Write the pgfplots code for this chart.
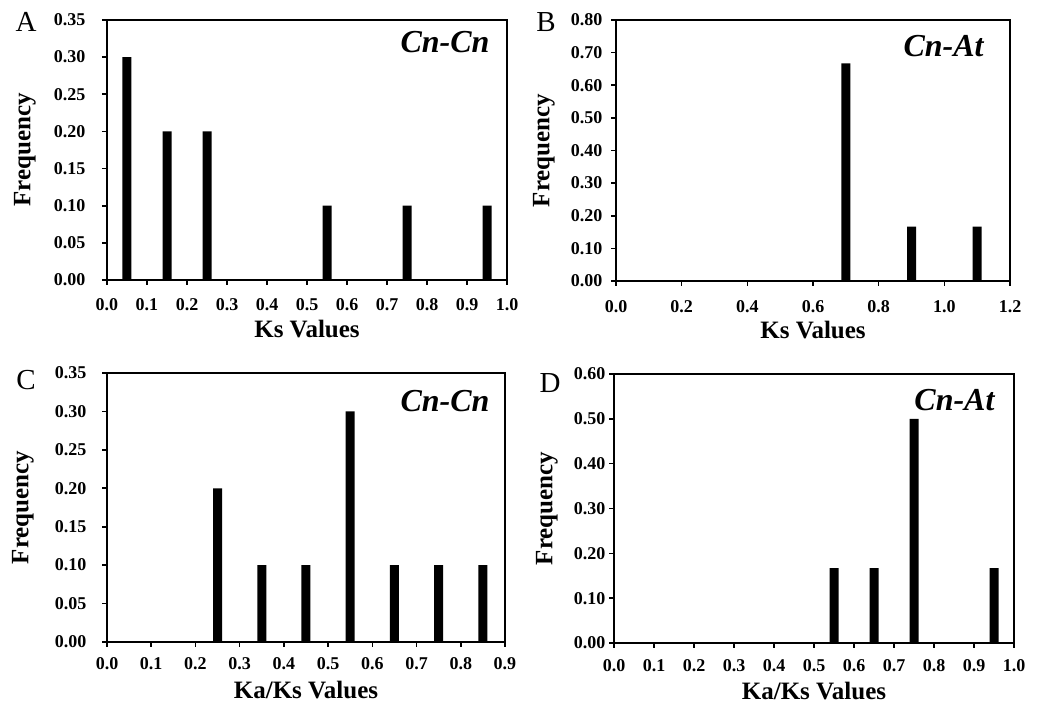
\documentclass[border=0pt]{standalone}
\usepackage{pgfplots}
\pgfplotsset{compat=1.18}
\usepackage{fontspec}
\setmainfont{Liberation Serif}
\newcommand{\fs}[1]{\fontsize{#1}{#1}\selectfont}
\pgfplotsset{
  panel/.style={
    scale only axis,
    axis line style={line width=2pt},
    every tick/.style={line width=1.6pt, black},
    major tick length=5pt,
    tick pos=left,
    tick align=outside,
    ymin=0, xmin=0,
    /pgf/number format/assume math mode=true,
    ticklabel style={font=\fs{18}\bfseries},
    yticklabel style={/pgf/number format/fixed, /pgf/number format/fixed zerofill, /pgf/number format/precision=2},
    xticklabel style={/pgf/number format/fixed, /pgf/number format/fixed zerofill, /pgf/number format/precision=1},
    label style={font=\fs{25}\bfseries},
    clip=false,
  },
  bars/.style={ybar, bar width=9pt, fill=black, draw=none},
}
\begin{document}
\begin{tikzpicture}
\useasboundingbox (0pt,0pt) rectangle (1047pt,711pt);
% Panel A
\begin{axis}[panel, at={(107pt,431pt)}, anchor=south west, width=400pt, height=260pt,
  xmax=1, ymax=0.35,
  xtick={0,0.1,0.2,0.3,0.4,0.5,0.6,0.7,0.8,0.9,1.0},
  ytick={0,0.05,0.10,0.15,0.20,0.25,0.30,0.35},
  yticklabel style={xshift=-13pt}, xticklabel style={yshift=-10pt},
  xlabel={Ks Values}, ylabel={Frequency},
  xlabel style={at={([yshift=-49pt]axis description cs:0.5,0)}, anchor=center},
  ylabel style={at={([xshift=-82pt]axis description cs:0,0.5)}, anchor=center},
]
\addplot[bars] coordinates {(0.05,0.30) (0.15,0.20) (0.25,0.20) (0.55,0.10) (0.75,0.10) (0.95,0.10)};
\node[anchor=east, font=\fs{32}\bfseries\itshape] at (rel axis cs:0.965,0.915) {Cn-Cn};
\end{axis}
% Panel B
\begin{axis}[panel, at={(616pt,430pt)}, anchor=south west, width=394pt, height=261pt,
  xmax=1.2, ymax=0.8,
  xtick={0,0.2,0.4,0.6,0.8,1.0,1.2},
  ytick={0,0.1,0.2,0.3,0.4,0.5,0.6,0.7,0.8},
  yticklabel style={xshift=-5pt}, xticklabel style={yshift=-11pt},
  xlabel={Ks Values}, ylabel={Frequency},
  xlabel style={at={([yshift=-49pt]axis description cs:0.5,0)}, anchor=center},
  ylabel style={at={([xshift=-72pt]axis description cs:0,0.5)}, anchor=center},
]
\addplot[bars] coordinates {(0.7,0.667) (0.9,0.167) (1.1,0.167)};
\node[anchor=east, font=\fs{32}\bfseries\itshape] at (rel axis cs:0.942,0.9) {Cn-At};
\end{axis}
% Panel C
\begin{axis}[panel, at={(107pt,69pt)}, anchor=south west, width=398pt, height=269pt,
  xmax=0.9, ymax=0.35,
  xtick={0,0.1,0.2,0.3,0.4,0.5,0.6,0.7,0.8,0.9},
  ytick={0,0.05,0.10,0.15,0.20,0.25,0.30,0.35},
  yticklabel style={xshift=-12pt}, xticklabel style={yshift=-7pt},
  xlabel={Ka/Ks Values}, ylabel={Frequency},
  xlabel style={at={([yshift=-48pt]axis description cs:0.5,0)}, anchor=center},
  ylabel style={at={([xshift=-84pt]axis description cs:0,0.5)}, anchor=center},
]
\addplot[bars] coordinates {(0.25,0.20) (0.35,0.10) (0.45,0.10) (0.55,0.30) (0.65,0.10) (0.75,0.10) (0.85,0.10)};
\node[anchor=east, font=\fs{32}\bfseries\itshape] at (rel axis cs:0.97,0.896) {Cn-Cn};
\end{axis}
% Panel D
\begin{axis}[panel, at={(614pt,68pt)}, anchor=south west, width=400pt, height=269pt,
  xmax=1.0, ymax=0.6,
  xtick={0,0.1,0.2,0.3,0.4,0.5,0.6,0.7,0.8,0.9,1.0},
  ytick={0,0.1,0.2,0.3,0.4,0.5,0.6},
  yticklabel style={xshift=0pt}, xticklabel style={yshift=-8pt},
  xlabel={Ka/Ks Values}, ylabel={Frequency},
  xlabel style={at={([yshift=-48pt]axis description cs:0.5,0)}, anchor=center},
  ylabel style={at={([xshift=-67pt]axis description cs:0,0.5)}, anchor=center},
]
\addplot[bars] coordinates {(0.55,0.167) (0.65,0.167) (0.75,0.50) (0.95,0.167)};
\node[anchor=east, font=\fs{32}\bfseries\itshape] at (rel axis cs:0.96,0.903) {Cn-At};
\end{axis}
% Panel letters
\node[font=\fs{29}] at (26pt,689pt) {A};
\node[font=\fs{29}] at (546pt,689pt) {B};
\node[font=\fs{29}] at (26pt,331pt) {C};
\node[font=\fs{29}] at (550pt,328pt) {D};
\end{tikzpicture}
\end{document}
